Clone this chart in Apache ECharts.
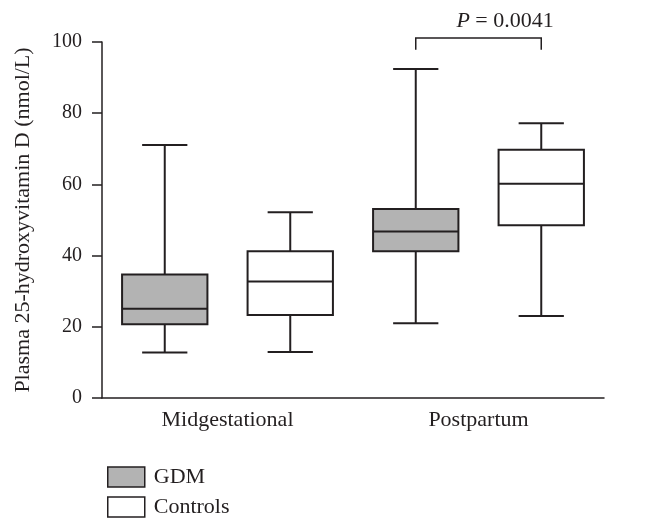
<!DOCTYPE html>
<html>
<head>
<meta charset="utf-8">
<script src="https://cdn.jsdelivr.net/npm/echarts@6/dist/echarts.min.js"></script>
<style>
  html, body { margin: 0; padding: 0; background: #fff; }
  #chart { width: 654px; height: 523px; }
</style>
</head>
<body>
<div id="chart"></div>
<script>
// groups on the x axis
const categories = ['Midgestational', 'Postpartum'];
// [category index, min, Q1, median, Q3, max]
const gdmBoxes = [
    [0, 12.8, 20.7, 25.1, 34.7, 71.1],
    [1, 21.0, 41.2, 46.8, 53.1, 92.4]
];
const controlBoxes = [
    [0, 12.9, 23.3, 32.7, 41.2, 52.2],
    [1, 23.0, 48.5, 60.2, 69.7, 77.2]
];
// [category index, leg bottom, bracket top, label level]
const bracketData = [[1, 97.8, 101.1, 105.7]];
const pLabel = '{i|P} = 0.0041';
const yTicks = [0, 100, 20]; // min, max, step

const FONT = '"Liberation Serif", "Times New Roman", serif';
const INK = '#231f20';

function boxRenderer(side) {
    return function (params, api) {
        const cat = api.value(0);
        const band = api.size([1, 0])[0];
        const cx = api.coord([cat, 0])[0] + side * band / 4;
        const bw = band * 0.34;
        const cw = bw * 0.53;
        const y = (i) => api.coord([cat, api.value(i)])[1];
        const yMin = y(1), yQ1 = y(2), yMed = y(3), yQ3 = y(4), yMax = y(5);
        const line = {stroke: INK, lineWidth: 2};
        const seg = (x1, y1, x2, y2) => ({
            type: 'line', shape: {x1, y1, x2, y2}, style: line
        });
        return {
            type: 'group',
            children: [
                seg(cx, yMin, cx, yQ1),
                seg(cx, yQ3, cx, yMax),
                seg(cx - cw / 2, yMin, cx + cw / 2, yMin),
                seg(cx - cw / 2, yMax, cx + cw / 2, yMax),
                {
                    type: 'rect',
                    shape: {x: cx - bw / 2, y: yQ3, width: bw, height: yQ1 - yQ3},
                    style: {fill: api.visual('color'), stroke: INK, lineWidth: 2}
                },
                seg(cx - bw / 2, yMed, cx + bw / 2, yMed)
            ]
        };
    };
}

function bracketRenderer(params, api) {
    const cat = api.value(0);
    const band = api.size([1, 0])[0];
    const c = api.coord([cat, api.value(2)]);
    const xl = c[0] - band / 4, xr = c[0] + band / 4;
    const yTop = c[1];
    const yLeg = api.coord([cat, api.value(1)])[1];
    const yText = api.coord([cat, api.value(3)])[1];
    const line = {stroke: INK, lineWidth: 1.5, fill: null};
    return {
        type: 'group',
        children: [
            {
                type: 'polyline',
                shape: {points: [[xl, yLeg], [xl, yTop], [xr, yTop], [xr, yLeg]]},
                style: line
            },
            {
                type: 'text',
                x: c[0] + band * 0.106,
                y: yText,
                style: {
                    text: pLabel,
                    align: 'center',
                    verticalAlign: 'middle',
                    fill: INK,
                    font: '22px ' + FONT,
                    rich: {i: {fontStyle: 'italic', fontSize: 22, fontFamily: FONT, fill: INK}}
                }
            }
        ]
    };
}

const chart = echarts.init(document.getElementById('chart'));

chart.setOption({
    animation: false,
    backgroundColor: '#fff',
    textStyle: {fontFamily: FONT, color: INK},
    grid: {left: 102, right: 50, top: 42, bottom: 125, outerBoundsMode: 'none', containLabel: false},
    legend: {
        orient: 'vertical',
        left: 102,
        top: 461,
        itemWidth: 37,
        itemHeight: 20,
        itemGap: 8,
        selectedMode: false,
        textStyle: {fontFamily: FONT, fontSize: 22, color: INK, padding: [0, 0, 0, 4]},
        data: [
            {name: 'GDM', icon: 'rect', itemStyle: {color: '#b3b3b3', borderColor: INK, borderWidth: 1.5}},
            {name: 'Controls', icon: 'rect', itemStyle: {color: '#fff', borderColor: INK, borderWidth: 1.5}}
        ]
    },
    xAxis: {
        type: 'category',
        data: categories,
        axisLine: {lineStyle: {color: INK, width: 1.5}},
        axisTick: {show: false},
        axisLabel: {fontFamily: FONT, fontSize: 22, color: INK, margin: 11}
    },
    yAxis: {
        type: 'value',
        min: yTicks[0],
        max: yTicks[1],
        interval: yTicks[2],
        name: 'Plasma 25-hydroxyvitamin D (nmol/L)',
        nameLocation: 'middle',
        nameGap: 68,
        nameTextStyle: {fontFamily: FONT, fontSize: 22, color: INK},
        axisLine: {show: true, lineStyle: {color: INK, width: 1.5}},
        axisTick: {show: true, length: 10, lineStyle: {color: INK, width: 1.5}},
        axisLabel: {fontFamily: FONT, fontSize: 20, color: INK, margin: 20},
        splitLine: {show: false}
    },
    series: [
        {
            name: 'GDM',
            type: 'custom',
            renderItem: boxRenderer(-1),
            itemStyle: {color: '#b3b3b3'},
            encode: {x: 0, y: [1, 2, 3, 4, 5]},
            data: gdmBoxes,
            silent: true
        },
        {
            name: 'Controls',
            type: 'custom',
            renderItem: boxRenderer(1),
            itemStyle: {color: '#ffffff'},
            encode: {x: 0, y: [1, 2, 3, 4, 5]},
            data: controlBoxes,
            silent: true
        },
        {
            name: 'bracket',
            type: 'custom',
            renderItem: bracketRenderer,
            clip: false,
            encode: {x: 0, y: [1, 2]},
            data: bracketData,
            silent: true
        }
    ]
});
</script>
</body>
</html>
